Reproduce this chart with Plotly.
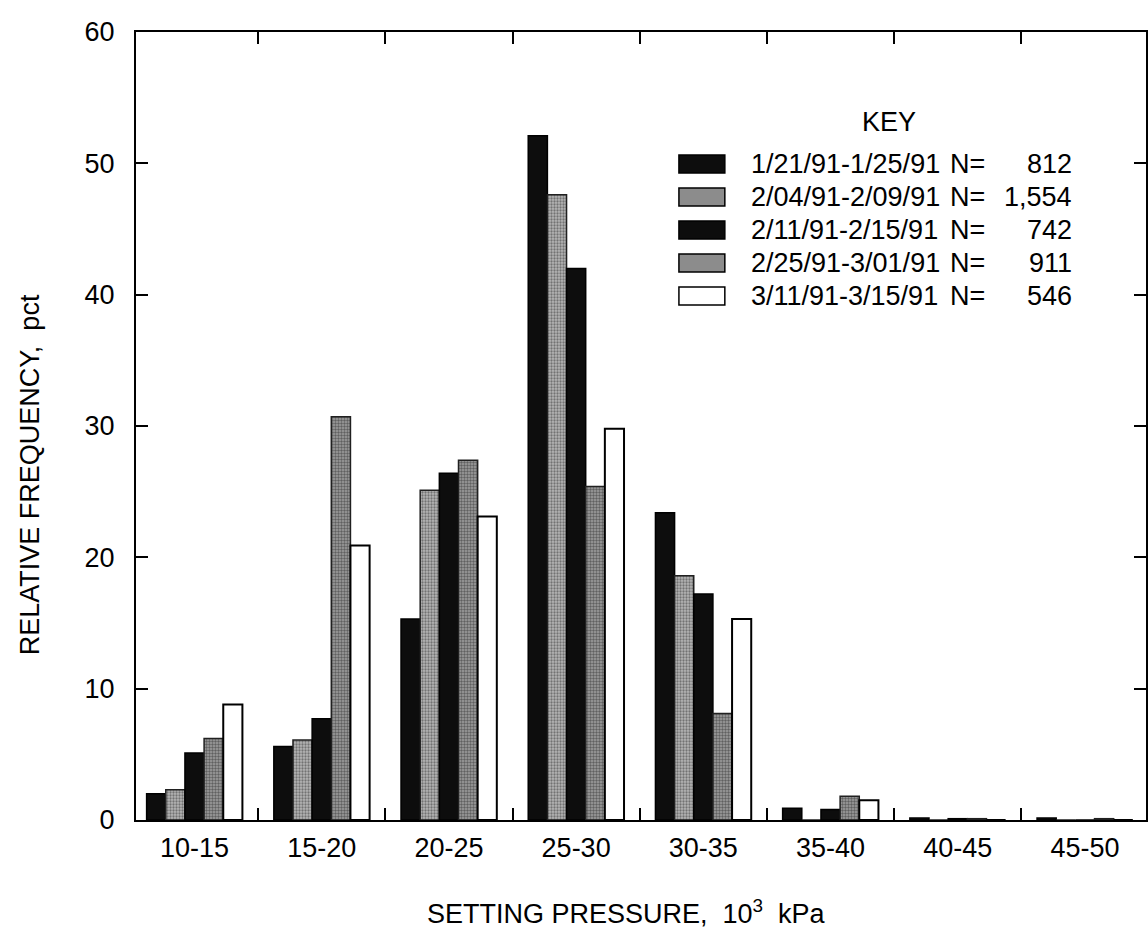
import plotly.graph_objects as go

categories = ["10-15", "15-20", "20-25", "25-30", "30-35", "35-40", "40-45", "45-50"]

series_names = ["1/21/91-1/25/91", "2/04/91-2/09/91", "2/11/91-2/15/91",
                "2/25/91-3/01/91", "3/11/91-3/15/91"]
series_n = ["812", "1,554", "742", "911", "546"]

s1 = [2.0, 5.6, 15.3, 52.1, 23.4, 0.9, 0.15, 0.15]
s2 = [2.3, 6.1, 25.1, 47.6, 18.6, 0.0, 0.0, 0.0]
s3 = [5.1, 7.7, 26.4, 42.0, 17.2, 0.8, 0.1, 0.0]
s4 = [6.2, 30.7, 27.4, 25.4, 8.1, 1.8, 0.1, 0.1]
s5 = [8.8, 20.9, 23.1, 29.8, 15.3, 1.5, 0.0, 0.0]

y_ticks = [0, 10, 20, 30, 40, 50, 60]

FONT = "Liberation Sans, Arial, sans-serif"
FS = 27

styles = [
    dict(color="#0d0d0d", line=dict(color="black", width=1.5)),
    dict(color="#b5b5b5", line=dict(color="#202020", width=1.5),
         pattern=dict(shape=".", fgcolor="#303030", bgcolor="#b5b5b5", size=3, solidity=0.45)),
    dict(color="#0d0d0d", line=dict(color="black", width=1.5)),
    dict(color="#9a9a9a", line=dict(color="#202020", width=1.5),
         pattern=dict(shape=".", fgcolor="#202020", bgcolor="#a0a0a0", size=3, solidity=0.5)),
    dict(color="white", line=dict(color="black", width=2)),
]
swatch_fill = ["#0d0d0d", "#8c8c8c", "#0d0d0d", "#8c8c8c", "white"]

fig = go.Figure()
for name, vals, st in zip(series_names, [s1, s2, s3, s4, s5], styles):
    fig.add_trace(go.Bar(x=categories, y=vals, name=name, marker=st, showlegend=False))

W, H = 1148, 933
L, R, T, B = 136, 0, 32, 113
pw, ph = W - L - R, H - T - B


def px2x(px):
    return (px - L) / pw


def py2y(py):
    return (H - B - py) / ph


shapes = []
annotations = []

# manual key
annotations.append(dict(text="KEY", x=px2x(890), y=py2y(122), xref="paper", yref="paper",
                        showarrow=False, xanchor="center", yanchor="middle",
                        font=dict(family=FONT, size=FS, color="black")))
row_y = [164, 197, 230, 263, 296]
for i, (nm, n) in enumerate(zip(series_names, series_n)):
    yc = row_y[i]
    shapes.append(dict(type="rect", xref="paper", yref="paper",
                       x0=px2x(680), x1=px2x(726), y0=py2y(yc - 9), y1=py2y(yc + 9),
                       fillcolor=swatch_fill[i], line=dict(color="black", width=1.5)))
    annotations.append(dict(text=nm, x=px2x(750), y=py2y(yc), xref="paper", yref="paper",
                            showarrow=False, xanchor="left", yanchor="middle",
                            font=dict(family=FONT, size=FS, color="black")))
    annotations.append(dict(text="N=", x=px2x(950), y=py2y(yc), xref="paper", yref="paper",
                            showarrow=False, xanchor="left", yanchor="middle",
                            font=dict(family=FONT, size=FS, color="black")))
    annotations.append(dict(text=n, x=px2x(1076), y=py2y(yc), xref="paper", yref="paper",
                            showarrow=False, xanchor="right", yanchor="middle",
                            font=dict(family=FONT, size=FS, color="black")))

annotations.append(dict(text="SETTING PRESSURE,  10<sup>3</sup>  kPa", x=px2x(426), y=py2y(912),
                        xref="paper", yref="paper", showarrow=False,
                        xanchor="left", yanchor="middle",
                        font=dict(family=FONT, size=FS, color="black")))
annotations.append(dict(text="RELATIVE FREQUENCY,  pct", x=px2x(30), y=py2y(475),
                        xref="paper", yref="paper", showarrow=False, textangle=-90,
                        xanchor="center", yanchor="middle",
                        font=dict(family=FONT, size=FS, color="black")))

fig.update_layout(
    width=W, height=H,
    margin=dict(l=L, r=R, t=T, b=B),
    paper_bgcolor="white", plot_bgcolor="white",
    barmode="group", bargap=0.247, bargroupgap=0,
    font=dict(family=FONT, size=FS, color="black"),
    shapes=shapes, annotations=annotations,
)
fig.update_xaxes(
    type="category", range=[-0.46, 7.48],
    showline=True, linecolor="black", linewidth=2, mirror="allticks",
    ticks="inside", ticklen=12, tickwidth=2, tickcolor="black",
    tickson="boundaries", showgrid=False, zeroline=False,
    tickfont=dict(family=FONT, size=FS), ticklabelstandoff=3,
)
fig.update_yaxes(
    range=[0, 60], tickvals=y_ticks,
    showline=True, linecolor="black", linewidth=2, mirror="allticks",
    ticks="inside", ticklen=12, tickwidth=2, tickcolor="black",
    showgrid=False, zeroline=False,
    tickfont=dict(family=FONT, size=FS), ticklabelstandoff=14,
)

fig.write_html("out.html")
